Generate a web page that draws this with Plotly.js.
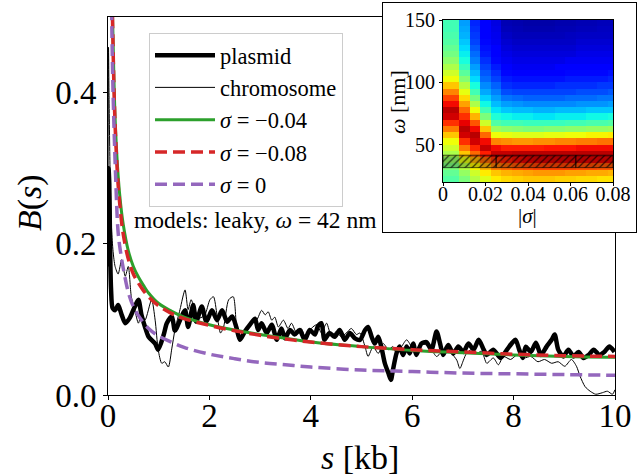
<!DOCTYPE html>
<html><head><meta charset="utf-8">
<script src="https://cdn.plot.ly/plotly-3.0.1.min.js"></script>
<style>html,body{margin:0;padding:0;background:#fff}#chart{width:642px;height:476px}</style>
</head><body><div id="chart"></div>
<script>
// ---- main panel data: B(s) vs s [kb] ----
const plasmidS = [0.0,0.01,0.025,0.04,0.06,0.09,0.14,0.2,0.27,0.34,0.43,0.53,0.6,0.66,0.73,0.8,0.93,0.99,1.1,1.16,1.26,1.32,1.42,1.52,1.58,1.68,1.74,1.85,1.94,2.05,2.15,2.25,2.35,2.45,2.53,2.6,2.7,2.8,2.9,2.96,3.03,3.13,3.23,3.33,3.42,3.49,3.59,3.68,3.78,3.88,3.98,4.08,4.14,4.21,4.27,4.37,4.47,4.57,4.67,4.77,4.87,4.97,5.07,5.13,5.2,5.26,5.33,5.39,5.46,5.53,5.58,5.62,5.69,5.75,5.82,5.89,5.95,6.02,6.08,6.18,6.28,6.38,6.48,6.55,6.61,6.71,6.81,6.91,7.01,7.11,7.21,7.31,7.41,7.47,7.6,7.74,7.87,7.97,8.04,8.11,8.18,8.24,8.34,8.44,8.54,8.65,8.75,8.81,8.88,8.98,9.08,9.18,9.28,9.38,9.48,9.58,9.69,9.79,9.89,9.99];
const plasmidB = [0.17,0.30,0.28,0.20,0.14,0.115,0.112,0.119,0.106,0.095,0.102,0.117,0.126,0.106,0.090,0.077,0.068,0.060,0.080,0.095,0.104,0.085,0.099,0.112,0.090,0.119,0.097,0.117,0.097,0.112,0.099,0.112,0.097,0.104,0.090,0.073,0.084,0.093,0.101,0.086,0.095,0.082,0.093,0.073,0.088,0.075,0.086,0.080,0.086,0.073,0.086,0.080,0.091,0.095,0.073,0.082,0.077,0.086,0.073,0.082,0.075,0.073,0.086,0.090,0.077,0.068,0.077,0.064,0.042,0.029,0.020,0.033,0.055,0.064,0.053,0.064,0.055,0.068,0.053,0.068,0.070,0.060,0.084,0.068,0.053,0.066,0.055,0.064,0.057,0.068,0.060,0.073,0.060,0.053,0.060,0.049,0.060,0.069,0.073,0.060,0.049,0.064,0.057,0.069,0.053,0.064,0.073,0.080,0.060,0.051,0.060,0.051,0.057,0.049,0.053,0.060,0.053,0.057,0.064,0.057];

const chromS = [0.0,0.01,0.02,0.04,0.07,0.1,0.14,0.2,0.27,0.34,0.4,0.46,0.53,0.6,0.66,0.73,0.86,0.93,0.99,1.06,1.12,1.19,1.26,1.32,1.42,1.52,1.58,1.64,1.71,1.81,1.91,2.01,2.08,2.15,2.22,2.28,2.38,2.47,2.54,2.6,2.67,2.8,2.93,3.03,3.1,3.16,3.23,3.29,3.36,3.46,3.55,3.62,3.72,3.81,3.91,4.01,4.12,4.21,4.31,4.41,4.5,4.6,4.7,4.8,4.9,4.97,5.07,5.13,5.23,5.33,5.43,5.53,5.62,5.69,5.79,5.89,5.95,6.02,6.12,6.18,6.28,6.38,6.48,6.58,6.68,6.78,6.88,6.94,7.01,7.07,7.17,7.27,7.37,7.47,7.6,7.7,7.8,7.94,8.07,8.21,8.34,8.48,8.61,8.75,8.88,9.01,9.14,9.24,9.31,9.41,9.51,9.62,9.75,9.85,9.95,10.0];
const chromB = [0.25,0.46,0.40,0.30,0.22,0.19,0.17,0.16,0.179,0.157,0.17,0.13,0.112,0.095,0.108,0.099,0.126,0.099,0.060,0.042,0.044,0.037,0.062,0.086,0.113,0.139,0.113,0.126,0.113,0.102,0.106,0.126,0.130,0.106,0.082,0.090,0.126,0.130,0.086,0.073,0.082,0.095,0.099,0.112,0.106,0.110,0.099,0.103,0.090,0.099,0.088,0.095,0.082,0.088,0.073,0.088,0.093,0.082,0.095,0.077,0.084,0.077,0.082,0.088,0.080,0.082,0.064,0.051,0.064,0.055,0.068,0.060,0.064,0.055,0.064,0.073,0.068,0.060,0.062,0.068,0.066,0.060,0.051,0.057,0.064,0.055,0.046,0.035,0.046,0.055,0.060,0.055,0.058,0.042,0.049,0.040,0.051,0.047,0.053,0.049,0.051,0.044,0.047,0.042,0.044,0.038,0.047,0.038,0.025,0.011,0.005,0.001,0.003,0.005,0.001,0.007];

const modelS = [0.06,0.08,0.1,0.12,0.15,0.2,0.25,0.3,0.4,0.5,0.6,0.7,0.8,1.0,1.25,1.5,2.0,2.5,3.0,3.5,4.0,5.0,6.0,7.0,8.0,9.0,10.0];
const sigma004B = [0.62,0.53,0.47,0.41,0.35,0.29,0.252,0.226,0.191,0.170,0.156,0.145,0.135,0.121,0.111,0.103,0.093,0.086,0.080,0.075,0.070,0.064,0.059,0.056,0.053,0.051,0.050];
const sigma008B = [0.62,0.53,0.46,0.40,0.34,0.278,0.240,0.213,0.180,0.160,0.148,0.138,0.130,0.118,0.108,0.101,0.092,0.085,0.079,0.074,0.070,0.064,0.060,0.057,0.054,0.052,0.051];
const sigma0S = [0.04,0.06,0.08,0.1,0.15,0.2,0.25,0.3,0.4,0.5,0.6,0.8,1.0,1.25,1.5,2.0,2.5,3.0,3.5,4.0,5.0,6.0,7.0,8.0,9.0,10.0];
const sigma0B = [0.75,0.56,0.47,0.40,0.29,0.215,0.188,0.168,0.136,0.117,0.105,0.088,0.078,0.070,0.063,0.054,0.048,0.043,0.040,0.037,0.033,0.031,0.029,0.028,0.027,0.026];

const seriesNames = ['plasmid','chromosome','<i>σ</i> = −0.04','<i>σ</i> = −0.08','<i>σ</i> = 0'];
const xTicks = [0,2,4,6,8,10];
const yTicks = [0,0.2,0.4];
const yTickText = ['0.0','0.2','0.4'];

// ---- inset heatmap data: |sigma| (columns) x omega (rows) ----
const sigmaEdges = [0,0.0075,0.0125,0.0175,0.0225,0.0275,0.0325,0.0375,0.0425,0.0475,0.0525,0.0575,0.0625,0.0675,0.0725,0.0775,0.08];
const omegaEdges = [20,25,30,35,40,45,50,55,60,65,70,75,80,85,90,95,100,105,110,115,120,125,130,135,140,145,150];
// each column listed from omega = 20 (bottom) to 150 (top)
const heatCols = [
 [0.45,0.47,0.50,0.53,0.56,0.60,0.64,0.70,0.78,0.86,0.93,0.95,0.90,0.84,0.77,0.70,0.64,0.60,0.56,0.52,0.49,0.47,0.45,0.44,0.43,0.43],
 [0.50,0.53,0.57,0.63,0.70,0.78,0.86,0.93,0.95,0.91,0.86,0.80,0.74,0.68,0.63,0.57,0.51,0.46,0.42,0.38,0.36,0.34,0.32,0.30,0.29,0.28],
 [0.57,0.60,0.65,0.72,0.80,0.87,0.93,0.95,0.90,0.82,0.72,0.64,0.56,0.49,0.43,0.38,0.34,0.31,0.28,0.25,0.23,0.21,0.19,0.18,0.17,0.16],
 [0.62,0.66,0.72,0.80,0.88,0.94,0.90,0.80,0.70,0.60,0.50,0.43,0.37,0.33,0.29,0.26,0.23,0.21,0.19,0.17,0.15,0.14,0.13,0.12,0.115,0.11],
 [0.66,0.70,0.78,0.86,0.94,0.90,0.77,0.64,0.54,0.45,0.39,0.35,0.31,0.28,0.25,0.22,0.19,0.17,0.15,0.13,0.12,0.11,0.10,0.095,0.09,0.085],
 [0.68,0.72,0.80,0.88,0.94,0.88,0.76,0.63,0.52,0.43,0.37,0.32,0.28,0.24,0.20,0.17,0.15,0.13,0.11,0.10,0.09,0.08,0.07,0.06,0.05,0.045],
 [0.69,0.73,0.82,0.90,0.95,0.88,0.75,0.62,0.51,0.43,0.36,0.31,0.27,0.23,0.19,0.16,0.14,0.12,0.10,0.09,0.08,0.07,0.06,0.05,0.045,0.04],
 [0.70,0.74,0.83,0.91,0.95,0.88,0.75,0.62,0.50,0.42,0.36,0.31,0.26,0.22,0.19,0.16,0.14,0.12,0.10,0.09,0.08,0.07,0.06,0.05,0.04,0.035],
 [0.70,0.75,0.84,0.92,0.95,0.88,0.76,0.62,0.50,0.42,0.35,0.30,0.26,0.22,0.19,0.16,0.14,0.12,0.10,0.09,0.08,0.07,0.06,0.05,0.04,0.035],
 [0.70,0.75,0.84,0.92,0.95,0.89,0.76,0.63,0.51,0.42,0.35,0.30,0.26,0.22,0.19,0.16,0.14,0.12,0.10,0.09,0.08,0.07,0.06,0.05,0.04,0.035],
 [0.69,0.75,0.84,0.92,0.95,0.89,0.77,0.63,0.51,0.42,0.36,0.31,0.26,0.22,0.19,0.17,0.14,0.12,0.11,0.09,0.08,0.07,0.06,0.05,0.045,0.04],
 [0.69,0.74,0.84,0.92,0.95,0.89,0.77,0.64,0.52,0.43,0.36,0.31,0.26,0.23,0.19,0.17,0.15,0.13,0.11,0.10,0.08,0.07,0.06,0.055,0.045,0.04],
 [0.68,0.74,0.83,0.92,0.95,0.90,0.78,0.64,0.52,0.43,0.36,0.31,0.27,0.23,0.20,0.17,0.15,0.13,0.11,0.10,0.09,0.08,0.07,0.06,0.05,0.045],
 [0.68,0.73,0.83,0.91,0.95,0.90,0.78,0.65,0.53,0.44,0.37,0.32,0.27,0.23,0.20,0.17,0.15,0.13,0.11,0.10,0.09,0.08,0.07,0.06,0.05,0.045],
 [0.67,0.73,0.82,0.91,0.95,0.90,0.79,0.65,0.53,0.44,0.37,0.32,0.27,0.24,0.20,0.18,0.15,0.13,0.12,0.10,0.09,0.08,0.07,0.06,0.055,0.05],
 [0.67,0.72,0.82,0.91,0.95,0.90,0.79,0.66,0.54,0.45,0.38,0.32,0.28,0.24,0.21,0.18,0.16,0.14,0.12,0.10,0.09,0.08,0.07,0.06,0.055,0.05]
];
const hatchSigma = [0,0.025,0.0625,0.08];
const hatchOmega = [31.5,41.5];
const insetXTicks = [0,0.02,0.04,0.06,0.08];
const insetXText = ['0','0.02','0.04','0.06','0.08'];
const insetYTicks = [50,100,150];

// ---- build ----
const FONT = 'Liberation Serif, Times New Roman, serif';
const jet = [[0,'rgb(0,0,128)'],[0.11,'rgb(0,0,255)'],[0.125,'rgb(0,0,255)'],[0.34,'rgb(0,219,255)'],[0.35,'rgb(0,229,247)'],[0.375,'rgb(20,255,226)'],[0.64,'rgb(239,255,8)'],[0.65,'rgb(247,245,0)'],[0.66,'rgb(255,236,0)'],[0.89,'rgb(255,19,0)'],[0.91,'rgb(232,0,0)'],[1,'rgb(128,0,0)']];

const z = [];
for (let r = 0; r < omegaEdges.length - 1; r++) {
  const row = [];
  for (let c = 0; c < heatCols.length; c++) row.push(heatCols[c][r]);
  z.push(row);
}

const traces = [
  {x: plasmidS, y: plasmidB, name: seriesNames[0], mode: 'lines', line: {color: 'black', width: 4.5, shape: 'spline', smoothing: 0.7}, legendgroup: 'g1'},
  {x: chromS, y: chromB, name: seriesNames[1], mode: 'lines', line: {color: 'black', width: 1, shape: 'spline', smoothing: 0.7}, legendgroup: 'g2'},
  {x: modelS, y: sigma004B, name: seriesNames[2], mode: 'lines', line: {color: '#2ca02c', width: 3, shape: 'spline'}, legendgroup: 'g3'},
  {x: modelS, y: sigma008B, name: seriesNames[3], mode: 'lines', line: {color: '#d62728', width: 3.5, dash: '12px,6px', shape: 'spline'}, legendgroup: 'g4'},
  {x: sigma0S, y: sigma0B, name: seriesNames[4], mode: 'lines', line: {color: '#9467bd', width: 3.5, dash: '12px,6px', shape: 'spline'}, legendgroup: 'g5'},
  {x: [], y: [], xaxis: 'x2', yaxis: 'y2', showlegend: false, hoverinfo: 'skip', type: 'scatter'},
  {type: 'heatmap', x: sigmaEdges, y: omegaEdges, z: z, xaxis: 'x3', yaxis: 'y3', colorscale: jet, zmin: 0, zmax: 1, showscale: false}
];
for (let i = 0; i < hatchSigma.length - 1; i++) {
  const a = hatchSigma[i], b = hatchSigma[i + 1];
  traces.push({
    x: [a, b, b, a, a], y: [hatchOmega[0], hatchOmega[0], hatchOmega[1], hatchOmega[1], hatchOmega[0]],
    xaxis: 'x3', yaxis: 'y3', mode: 'lines', fill: 'toself', showlegend: false, hoverinfo: 'skip',
    line: {color: 'rgba(0,0,0,0.8)', width: 0.8},
    fillcolor: 'rgba(0,0,0,0.22)',
    fillpattern: {shape: '/', fgcolor: 'rgba(0,0,0,0.7)', bgcolor: 'rgba(0,0,0,0.22)', size: 5, solidity: 0.25}
  });
}

const W = 642, H = 476;
const px = v => v / W, py = v => (H - v) / H;
const ann = (text, x, y, size, angle) => ({text: text, x: px(x), y: py(y), xref: 'paper', yref: 'paper', showarrow: false,
  xanchor: 'center', yanchor: 'middle', textangle: angle || 0, font: {size: size, family: FONT, color: 'black'}});

const layout = {
  width: W, height: H,
  margin: {l: 0, r: 0, t: 0, b: 0},
  paper_bgcolor: 'white', plot_bgcolor: 'white',
  font: {family: FONT, color: 'black'},
  showlegend: true,
  xaxis: {domain: [px(108), px(615)], range: [0, 10], tickvals: xTicks, ticks: 'outside', ticklen: 4, tickcolor: 'black',
          showline: true, mirror: true, linecolor: 'black', linewidth: 1, showgrid: false, zeroline: false,
          tickfont: {size: 33, family: FONT, color: 'black'}, ticklabelstandoff: -13, anchor: 'y', automargin: false},
  yaxis: {domain: [py(395), py(17)], range: [0, 0.5], tickvals: yTicks, ticktext: yTickText, ticks: 'outside', ticklen: 4, tickcolor: 'black',
          showline: true, mirror: true, linecolor: 'black', linewidth: 1, showgrid: false, zeroline: false,
          tickfont: {size: 33, family: FONT, color: 'black'}, anchor: 'x', automargin: false},
  xaxis2: {domain: [px(383), px(636)], range: [0, 1], showline: true, mirror: true, linecolor: 'black', linewidth: 1,
           showgrid: false, zeroline: false, showticklabels: false, ticks: '', anchor: 'y2', fixedrange: true},
  yaxis2: {domain: [py(232), py(3)], range: [0, 1], showline: true, mirror: true, linecolor: 'black', linewidth: 1,
           showgrid: false, zeroline: false, showticklabels: false, ticks: '', anchor: 'x2', fixedrange: true},
  xaxis3: {domain: [px(443), px(613)], range: [0, 0.08], tickvals: insetXTicks, ticktext: insetXText, ticks: 'outside', ticklen: 3,
           tickcolor: 'black', showline: true, mirror: true, linecolor: 'black', linewidth: 1, showgrid: false, zeroline: false,
           tickfont: {size: 20, family: FONT, color: 'black'}, ticklabelstandoff: -9, anchor: 'y3'},
  yaxis3: {domain: [py(182), py(20)], range: [20, 150], tickvals: insetYTicks, ticks: 'outside', ticklen: 3,
           tickcolor: 'black', showline: true, mirror: true, linecolor: 'black', linewidth: 1, showgrid: false, zeroline: false,
           tickfont: {size: 20, family: FONT, color: 'black'}, anchor: 'x3'},
  legend: {x: px(149), y: py(33), xanchor: 'left', yanchor: 'top', bgcolor: 'white', bordercolor: '#cccccc', borderwidth: 1,
           font: {size: 22.5, family: FONT, color: 'black'}, traceorder: 'grouped', tracegroupgap: 0, itemwidth: 60},
  annotations: [
    ann('<i>B</i>(<i>s</i>)', 30, 203, 34, -90),
    ann('<i>s</i> [kb]', 360, 457, 34),
    ann('models: leaky, <i>ω</i> = 42 nm', 255, 220, 23.5),
    ann('<i>ω</i> [nm]', 397, 102, 22, -90),
    ann('|<i>σ</i>|', 527, 216, 21)
  ]
};

Plotly.newPlot('chart', traces, layout, {displayModeBar: false, staticPlot: true});
</script></body></html>
